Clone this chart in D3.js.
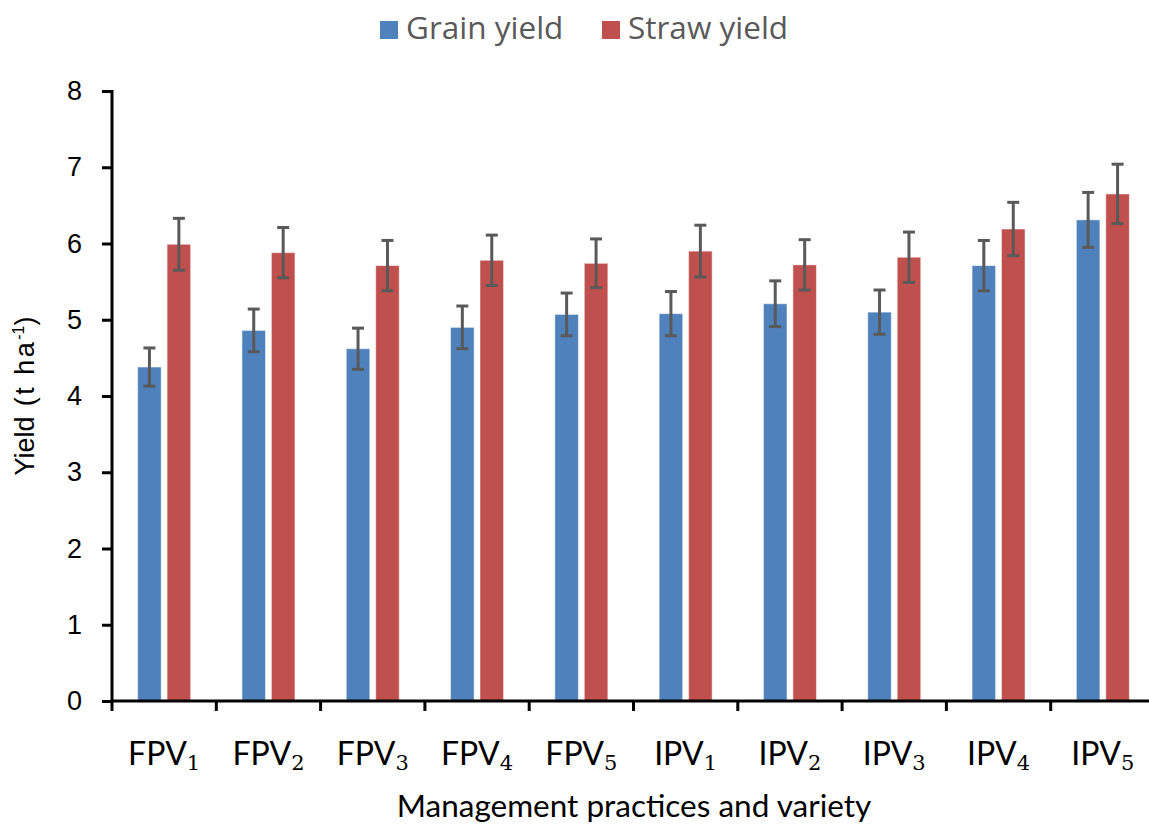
<!DOCTYPE html>
<html>
<head>
<meta charset="utf-8">
<script src="https://cdn.jsdelivr.net/npm/d3@7"></script>
<style>
  body { margin: 0; background: #fff; }
  svg { display: block; }
</style>
</head>
<body>
<div id="root"></div>
<script>
// chart data
var categories = ["FPV1", "FPV2", "FPV3", "FPV4", "FPV5", "IPV1", "IPV2", "IPV3", "IPV4", "IPV5"];
var seriesNames = ["Grain yield", "Straw yield"];
var grain = [4.38, 4.86, 4.62, 4.90, 5.07, 5.08, 5.21, 5.10, 5.71, 6.31];
var grainErr = [0.25, 0.28, 0.27, 0.28, 0.28, 0.29, 0.30, 0.29, 0.33, 0.36];
var straw = [5.99, 5.88, 5.71, 5.78, 5.74, 5.90, 5.72, 5.82, 6.19, 6.65];
var strawErr = [0.34, 0.33, 0.33, 0.33, 0.32, 0.34, 0.33, 0.33, 0.35, 0.39];
var yTicks = [0, 1, 2, 3, 4, 5, 6, 7, 8];

var w = 1149, h = 825;
var margin = {top: 91, left: 112, bottom: 124};
var colors = ["#4F81BD", "#C0504D"];

var rows = categories.map(function(c, i) {
  return {cat: c, vals: [
    {s: 0, v: grain[i], e: grainErr[i]},
    {s: 1, v: straw[i], e: strawErr[i]}
  ]};
});

var svg = d3.select("#root").append("svg").attr("width", w).attr("height", h);

// scales
var x = d3.scaleBand().domain(categories).range([margin.left, margin.left + 10 * 104.3]);
var groupW = 53;
var x1 = d3.scaleBand().domain([0, 1]).range([0, groupW]).paddingInner(0.2);
var y = d3.scaleLinear().domain([0, 8]).range([h - margin.bottom, margin.top]);

// bars
var groups = svg.selectAll("g.grp").data(rows).enter().append("g")
  .attr("class", "grp")
  .attr("transform", function(d) { return "translate(" + (x(d.cat) + (x.bandwidth() - groupW) / 2) + ",0)"; });

groups.selectAll("rect").data(function(d) { return d.vals; }).enter().append("rect")
  .attr("x", function(d) { return x1(d.s); })
  .attr("y", function(d) { return y(d.v); })
  .attr("width", x1.bandwidth())
  .attr("height", function(d) { return y(0) - y(d.v); })
  .attr("fill", function(d) { return colors[d.s]; })
  .attr("stroke", "#fff").attr("stroke-opacity", 0.5).attr("stroke-width", 1);

// error bars
var eb = groups.selectAll("g.err").data(function(d) { return d.vals; }).enter().append("g")
  .attr("class", "err")
  .attr("stroke", "#595959").attr("stroke-width", 3);
eb.append("line")
  .attr("x1", function(d) { return x1(d.s) + x1.bandwidth() / 2; })
  .attr("x2", function(d) { return x1(d.s) + x1.bandwidth() / 2; })
  .attr("y1", function(d) { return y(d.v + d.e); })
  .attr("y2", function(d) { return y(d.v - d.e); });
[1, -1].forEach(function(sign) {
  eb.append("line")
    .attr("x1", function(d) { return x1(d.s) + x1.bandwidth() / 2 - 6; })
    .attr("x2", function(d) { return x1(d.s) + x1.bandwidth() / 2 + 6; })
    .attr("y1", function(d) { return y(d.v + sign * d.e); })
    .attr("y2", function(d) { return y(d.v + sign * d.e); });
});

// y axis
var yAxis = d3.axisLeft(y).tickValues(yTicks).tickSize(10).tickPadding(20).tickFormat(d3.format("d"));
var gy = svg.append("g").attr("transform", "translate(" + margin.left + ",0)").call(yAxis);
gy.select(".domain").attr("stroke", "#000").attr("stroke-width", 3).attr("d", "M0," + (y(8) - 1) + "V" + (y(0) + 1));
gy.selectAll(".tick line").attr("stroke", "#000").attr("stroke-width", 3);
gy.selectAll(".tick text").style("font-family", "'Liberation Sans', Arial, sans-serif").style("font-size", "27px").attr("fill", "#000");

// x axis
var xAxis = d3.axisBottom(x).tickValues([]).tickSize(0);
var gx = svg.append("g").attr("transform", "translate(0," + y(0) + ")").call(xAxis);
gx.select(".domain").attr("stroke", "#000").attr("stroke-width", 3).attr("d", "M" + (margin.left - 1) + ",0H" + w);
var bounds = categories.map(function(c) { return x(c); }).concat([x.range()[1]]);
gx.selectAll("line.bt").data(bounds).enter().append("line").attr("class", "bt")
  .attr("x1", function(d) { return d; }).attr("x2", function(d) { return d; })
  .attr("y1", 0).attr("y2", 10).attr("stroke", "#000").attr("stroke-width", 3);

// category labels with subscripts
var lab = svg.selectAll("text.cat").data(categories).enter().append("text")
  .attr("class", "cat")
  .attr("x", function(d) { return x(d) + x.bandwidth() / 2; })
  .attr("y", 765)
  .attr("text-anchor", "middle")
  .style("font-family", "Lato, 'Open Sans', sans-serif").style("font-size", "32px").attr("fill", "#000");
lab.append("tspan").text(function(d) { return d.slice(0, 3); });
lab.append("tspan").attr("dy", 5).style("font-family", "'DejaVu Serif', serif").style("font-size", "21px")
  .text(function(d) { return d.slice(3); });

// axis titles
svg.append("text").attr("x", 634).attr("y", 817).attr("text-anchor", "middle")
  .style("font-family", "Lato, 'Open Sans', sans-serif").style("font-size", "31.5px").attr("fill", "#000")
  .text("Management practices and variety");
var yl = svg.append("text").attr("transform", "translate(34," + 396 + ") rotate(-90)").attr("text-anchor", "middle")
  .style("font-family", "'Liberation Sans', Arial, sans-serif").style("font-size", "27px").attr("fill", "#000");
yl.append("tspan").text("Yield");
yl.append("tspan").style("letter-spacing", "2.5px").text(" (t ha");
yl.append("tspan").attr("dy", -10).style("font-size", "16px").text("-1");
yl.append("tspan").attr("dy", 10).text(")");

// legend
var legX = [380, 602];
var leg = svg.selectAll("g.leg").data(seriesNames).enter().append("g").attr("class", "leg")
  .attr("transform", function(d, i) { return "translate(" + legX[i] + ",21)"; });
leg.append("rect").attr("width", 18).attr("height", 18).attr("fill", function(d, i) { return colors[i]; });
leg.append("text").attr("x", 26).attr("y", 18)
  .style("font-family", "'Open Sans', Lato, sans-serif").style("font-size", "31.5px").attr("fill", "#595959")
  .text(function(d) { return d; });
</script>
</body>
</html>
